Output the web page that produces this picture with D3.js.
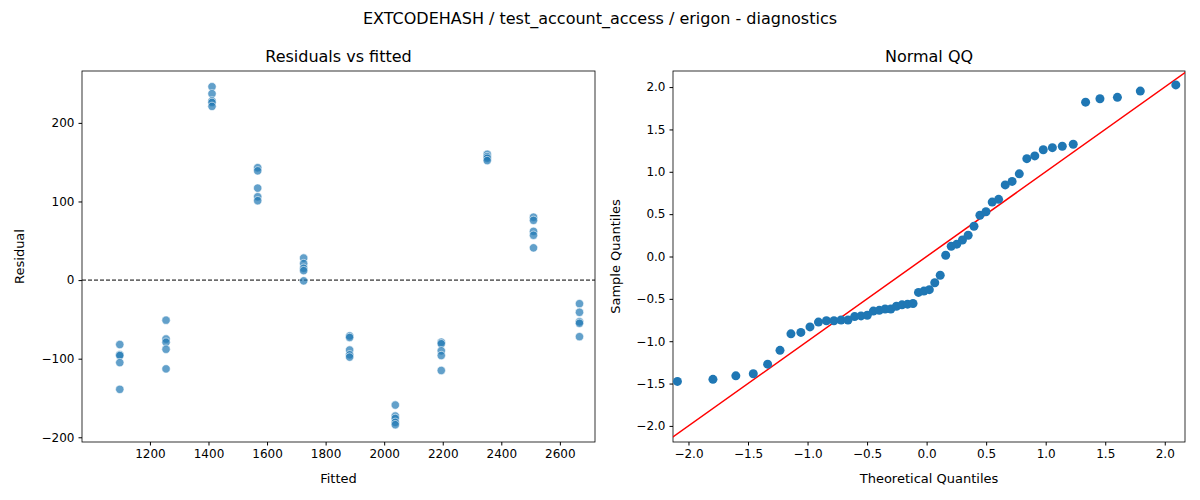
<!DOCTYPE html>
<html><head><meta charset="utf-8">
<script src="https://cdn.jsdelivr.net/npm/d3@7"></script>
<style>body{margin:0;background:#fff}text{font-family:"DejaVu Sans",sans-serif}</style>
</head><body><div id="chart"></div>
<script>
// fitted value of each group and its residuals
const fittedGroups = [1097, 1255, 1412, 1568, 1725, 1882, 2038, 2195, 2352, 2510, 2667];
const residualGroups = [
  [-82, -95, -96, -105, -139],
  [-51, -75, -79, -88, -113],
  [246, 237, 228, 226, 221],
  [143, 139, 117, 106, 101],
  [28, 21, 15, 12, -1],
  [-71, -73, -89, -95, -98],
  [-159, -173, -176, -181, -184],
  [-79, -81, -90, -96, -115],
  [160, 157, 155, 152],
  [80, 76, 62, 57, 41],
  [-30, -41, -53, -55, -72]
];
const leftXTicks = [1200, 1400, 1600, 1800, 2000, 2200, 2400, 2600];
const leftYTicks = [-200, -100, 0, 100, 200];
const qqTicks = [-2.0, -1.5, -1.0, -0.5, 0.0, 0.5, 1.0, 1.5, 2.0];

const points = [];
fittedGroups.forEach((f, i) => residualGroups[i].forEach(r => points.push({ f, r })));

// standardized residuals for QQ
const res = points.map(p => p.r);
const mean = d3.mean(res), sd = d3.deviation(res);
const sample = res.map(r => (r - mean) / sd).sort((a, b) => a - b);
const n = sample.length;
function normInv(p) {
  const a = [-39.6968302866538, 220.946098424521, -275.928510446969, 138.357751867269, -30.6647980661472, 2.50662827745924];
  const b = [-54.4760987982241, 161.585836858041, -155.698979859887, 66.8013118877197, -13.2806815528857];
  const c = [-0.00778489400243029, -0.322396458041136, -2.40075827716184, -2.54973253934373, 4.37466414146497, 2.93816398269878];
  const d = [0.00778469570904146, 0.32246712907004, 2.445134137143, 3.75440866190742];
  let q, r;
  if (p < 0.02425) { q = Math.sqrt(-2 * Math.log(p));
    return (((((c[0]*q+c[1])*q+c[2])*q+c[3])*q+c[4])*q+c[5])/((((d[0]*q+d[1])*q+d[2])*q+d[3])*q+1); }
  if (p > 1 - 0.02425) return -normInv(1 - p);
  q = p - 0.5; r = q * q;
  return (((((a[0]*r+a[1])*r+a[2])*r+a[3])*r+a[4])*r+a[5])*q/(((((b[0]*r+b[1])*r+b[2])*r+b[3])*r+b[4])*r+1);
}
const qq = sample.map((s, i) => ({ t: normInv((i + 1) / (n + 1)), s }));

const svg = d3.select("#chart").append("svg").attr("width", 1200).attr("height", 500);
svg.append("text").attr("x", 600).attr("y", 24).attr("text-anchor", "middle")
  .attr("font-size", 16).text("EXTCODEHASH / test_account_access / erigon - diagnostics");

function panel(x0, x1, y0, y1, xd, yd, xt, yt, fmt, title, xl, yl, ylOff) {
  const x = d3.scaleLinear().domain(xd).range([x0, x1]);
  const y = d3.scaleLinear().domain(yd).range([y1, y0]);
  const g = svg.append("g");
  g.append("g").attr("transform", `translate(0,${y1})`)
    .call(d3.axisBottom(x).tickValues(xt).tickFormat(fmt).tickSizeOuter(0).tickSize(3.5).tickPadding(4));
  g.append("g").attr("transform", `translate(${x0},0)`)
    .call(d3.axisLeft(y).tickValues(yt).tickFormat(fmt).tickSizeOuter(0).tickSize(3.5).tickPadding(4));
  g.selectAll(".tick text").attr("font-size", 12).attr("fill", "#000");
  g.selectAll(".domain").remove();
  g.append("rect").attr("x", x0).attr("y", y0).attr("width", x1 - x0).attr("height", y1 - y0)
    .attr("fill", "none").attr("stroke", "#000").attr("stroke-width", 0.8);
  g.append("text").attr("x", (x0 + x1) / 2).attr("y", y0 - 9).attr("text-anchor", "middle").attr("font-size", 16).text(title);
  g.append("text").attr("x", (x0 + x1) / 2).attr("y", y1 + 41).attr("text-anchor", "middle").attr("font-size", 13).text(xl);
  g.append("text").attr("transform", `translate(${x0 - ylOff},${(y0 + y1) / 2}) rotate(-90)`)
    .attr("text-anchor", "middle").attr("font-size", 13).text(yl);
  return { x, y, g };
}

const L = panel(82, 595, 71, 442, [968, 2720], [-206, 266], leftXTicks, leftYTicks, d3.format("d"),
  "Residuals vs fitted", "Fitted", "Residual", 58);
L.g.append("line").attr("x1", 82).attr("x2", 595).attr("y1", L.y(0)).attr("y2", L.y(0))
  .attr("stroke", "#000").attr("stroke-dasharray", "4,2").attr("stroke-width", 1);
L.g.selectAll("circle.p").data(points).enter().append("circle")
  .attr("cx", d => L.x(d.f)).attr("cy", d => L.y(d.r)).attr("r", 4.2)
  .attr("fill", "#1f77b4").attr("fill-opacity", 0.7).attr("stroke", "#fff").attr("stroke-width", 0.6);

const R = panel(673, 1185, 71, 442, [-2.13, 2.17], [-2.19, 2.19], qqTicks, qqTicks, d3.format(".1f"),
  "Normal QQ", "Theoretical Quantiles", "Sample Quantiles", 53);
R.g.append("clipPath").attr("id", "clipR").append("rect").attr("x", 673).attr("y", 71).attr("width", 512).attr("height", 371);
R.g.append("line").attr("clip-path", "url(#clipR)")
  .attr("x1", R.x(-2.3)).attr("y1", R.y(-2.3)).attr("x2", R.x(2.3)).attr("y2", R.y(2.3))
  .attr("stroke", "#ff0000").attr("stroke-width", 1.5);
R.g.selectAll("circle.q").data(qq).enter().append("circle")
  .attr("cx", d => R.x(d.t)).attr("cy", d => R.y(d.s)).attr("r", 4.5).attr("fill", "#1f77b4");
</script></body></html>
